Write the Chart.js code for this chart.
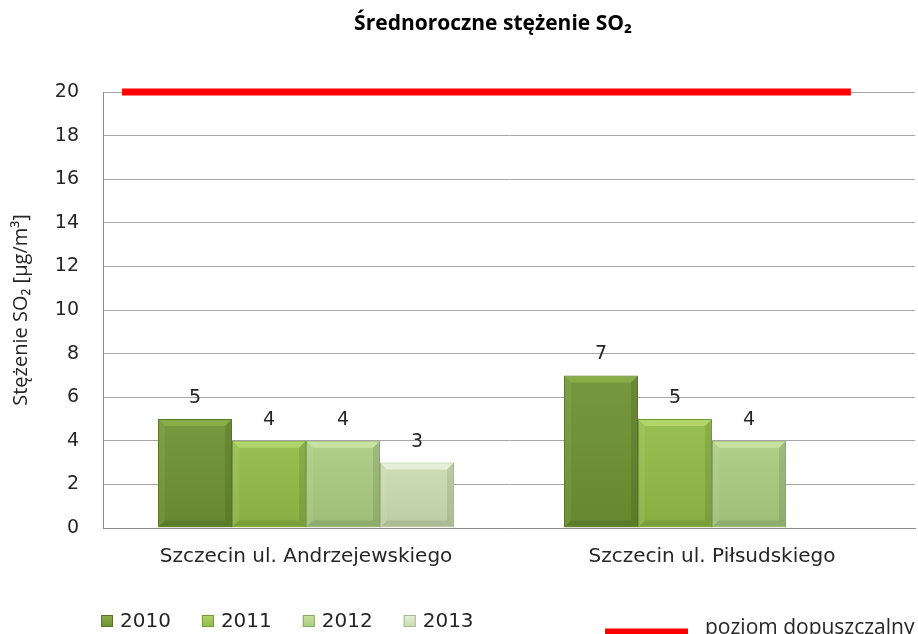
<!DOCTYPE html>
<html>
<head>
<meta charset="utf-8">
<script src="https://cdn.jsdelivr.net/npm/chart.js@4.4.1/dist/chart.umd.min.js"></script>
<style>
  html, body { margin: 0; padding: 0; background: #ffffff; }
  #wrap { width: 918px; height: 634px; position: relative; }
</style>
</head>
<body>
<div id="wrap"><canvas id="c" width="918" height="634"></canvas></div>
<script>
// ---- data ----
const chartTitle = 'Średnoroczne stężenie SO₂';
const yAxisTitle = 'Stężenie SO₂ [µg/m³]';
const categories = ['Szczecin ul. Andrzejewskiego', 'Szczecin ul. Piłsudskiego'];
const years = ['2010', '2011', '2012', '2013'];
const values2010 = [5, 7];
const values2011 = [4, 5];
const values2012 = [4, 4];
const values2013 = [3, null];
const limitLabel = 'poziom dopuszczalny';
const limitValues = [20, 20];
const limitSpan = [-0.453, 1.342];   // extent of the limit line, in category-index units
const yTicks = [0, 2, 4, 6, 8, 10, 12, 14, 16, 18, 20];

// ---- styles ----
const barColors = ['#6d9131', '#92bb47', '#aacb80', '#cadcb1'];
const barTops   = ['#89ae49', '#b1d568', '#c8e2a0', '#e4f0d5'];
const barDark   = ['#56762a', '#74983a', '#89a866', '#a5b890'];
const seriesValues = [values2010, values2011, values2012, values2013];

const barDatasets = years.map((y, i) => ({
  type: 'bar',
  label: y,
  data: seriesValues[i],
  backgroundColor: barColors[i],
  borderColor: barDark[i],
  borderWidth: 1,
  categoryPercentage: 0.729,
  barPercentage: 1.0
}));

const limitDataset = {
  type: 'line',
  label: limitLabel,
  data: limitSpan.map((x, i) => ({ x: x, y: limitValues[i] })),
  borderColor: '#ff0000',
  borderWidth: 7,
  borderCapStyle: 'butt',
  pointRadius: 0,
  fill: false,
  clip: false
};

// bevel look on bars
const bevelPlugin = {
  id: 'bevel',
  afterDatasetDraw(chart, args) {
    const ds = chart.data.datasets[args.index];
    if (ds.type !== 'bar') return;
    const i = args.index;
    const ctx = chart.ctx;
    args.meta.data.forEach((el, j) => {
      if (ds.data[j] == null) return;
      const { x, y, base, width } = el.getProps(['x', 'y', 'base', 'width'], true);
      const l = x - width / 2, r = x + width / 2, t = y, b = base;
      const e = 6;
      ctx.save();
      const g = ctx.createLinearGradient(0, t, 0, b);
      g.addColorStop(0, 'rgba(255,255,255,0.06)');
      g.addColorStop(1, 'rgba(0,0,0,0.07)');
      ctx.fillStyle = g;
      ctx.fillRect(l + 1, t + 1, width - 2, b - t - 2);
      // top bevel
      ctx.fillStyle = barTops[i];
      ctx.beginPath();
      ctx.moveTo(l + 1, t + 1); ctx.lineTo(r - 1, t + 1);
      ctx.lineTo(r - 1 - e, t + 1 + e); ctx.lineTo(l + 1 + e, t + 1 + e);
      ctx.closePath(); ctx.fill();
      // right bevel
      ctx.fillStyle = 'rgba(0,0,0,0.09)';
      ctx.beginPath();
      ctx.moveTo(r - 1, t + 1); ctx.lineTo(r - 1, b - 1);
      ctx.lineTo(r - 1 - e, b - 1 - e); ctx.lineTo(r - 1 - e, t + 1 + e);
      ctx.closePath(); ctx.fill();
      // bottom bevel
      ctx.fillStyle = 'rgba(0,0,0,0.09)';
      ctx.beginPath();
      ctx.moveTo(l + 1, b - 1); ctx.lineTo(r - 1, b - 1);
      ctx.lineTo(r - 1 - e, b - 1 - e); ctx.lineTo(l + 1 + e, b - 1 - e);
      ctx.closePath(); ctx.fill();
      // left bevel
      ctx.fillStyle = 'rgba(255,255,255,0.07)';
      ctx.beginPath();
      ctx.moveTo(l + 1, t + 1); ctx.lineTo(l + 1 + e, t + 1 + e);
      ctx.lineTo(l + 1 + e, b - 1 - e); ctx.lineTo(l + 1, b - 1);
      ctx.closePath(); ctx.fill();
      ctx.restore();
    });
  }
};

// value labels above bars
const valueLabelPlugin = {
  id: 'valueLabels',
  afterDatasetsDraw(chart) {
    const ctx = chart.ctx;
    ctx.save();
    ctx.font = '19px "DejaVu Sans"';
    ctx.fillStyle = '#262626';
    ctx.textAlign = 'center';
    ctx.textBaseline = 'middle';
    chart.data.datasets.forEach((ds, i) => {
      if (ds.type !== 'bar') return;
      chart.getDatasetMeta(i).data.forEach((el, j) => {
        const v = ds.data[j];
        if (v == null) return;
        ctx.fillText(String(v), el.x, el.y - 21);
      });
    });
    ctx.restore();
  }
};

// chart title + legend
const decorPlugin = {
  id: 'decor',
  afterDraw(chart) {
    const ctx = chart.ctx;
    ctx.save();
    // title
    ctx.font = 'bold 21px "Open Sans", "Noto Sans"';
    ctx.fillStyle = '#000000';
    ctx.textAlign = 'center';
    ctx.textBaseline = 'middle';
    ctx.fillText(chartTitle, 493, 24);

    // bar legend
    ctx.font = '20px "DejaVu Sans"';
    ctx.textAlign = 'left';
    ctx.textBaseline = 'middle';
    let x = 101;
    const ly = 621;
    chart.data.datasets.forEach((ds, i) => {
      if (ds.type !== 'bar') return;
      const g = ctx.createLinearGradient(0, ly - 6, 0, ly + 6);
      g.addColorStop(0, barTops[i]);
      g.addColorStop(1, barColors[i]);
      ctx.fillStyle = g;
      ctx.fillRect(x, ly - 6, 12, 12);
      ctx.strokeStyle = barDark[i];
      ctx.lineWidth = 1;
      ctx.strokeRect(x + 0.5, ly - 5.5, 11, 11);
      ctx.fillStyle = '#262626';
      ctx.fillText(ds.label, x + 19, ly + 1);
      x += 19 + ctx.measureText(ds.label).width + 31;
    });

    // limit legend
    ctx.strokeStyle = '#ff0000';
    ctx.lineWidth = 7;
    ctx.beginPath();
    ctx.moveTo(605, 632);
    ctx.lineTo(688, 632);
    ctx.stroke();
    ctx.font = '21px "Open Sans", "Noto Sans"';
    ctx.fillStyle = '#262626';
    ctx.textBaseline = 'alphabetic';
    ctx.fillText(limitLabel, 705, 634);
    ctx.restore();
  }
};

new Chart(document.getElementById('c'), {
  type: 'bar',
  data: {
    labels: categories.map((c, i) => i),
    datasets: [...barDatasets, limitDataset]
  },
  options: {
    responsive: false,
    animation: false,
    layout: { padding: { top: 92, right: 3, left: 0, bottom: 0 } },
    plugins: {
      legend: { display: false },
      title: { display: false },
      tooltip: { enabled: false }
    },
    scales: {
      x: {
        type: 'linear',
        offset: false,
        min: -0.5,
        max: 1.5,
        afterBuildTicks(scale) { scale.ticks = categories.map((c, i) => ({ value: i })); },
        grid: { display: false, drawTicks: false, offset: false },
        border: { display: true, color: '#8c8c8c', width: 1 },
        ticks: {
          font: { family: 'DejaVu Sans', size: 20 },
          color: '#262626',
          padding: 17,
          maxRotation: 0,
          autoSkip: false,
          callback: (v) => categories[v]
        },
        afterFit(scale) { scale.height = 106; }
      },
      y: {
        min: 0,
        max: 20,
        afterBuildTicks(scale) { scale.ticks = yTicks.map(v => ({ value: v })); },
        grid: { color: '#a6a6a6', drawTicks: false },
        border: { display: true, color: '#8c8c8c', width: 1 },
        ticks: { font: { family: 'DejaVu Sans', size: 19 }, color: '#262626', padding: 24 },
        title: {
          display: true,
          text: yAxisTitle,
          font: { family: 'Open Sans', size: 20 },
          color: '#262626',
          padding: { top: 9, bottom: 0 }
        },
        afterFit(scale) { scale.width = 103; }
      }
    }
  },
  plugins: [bevelPlugin, valueLabelPlugin, decorPlugin]
});
</script>
</body>
</html>
